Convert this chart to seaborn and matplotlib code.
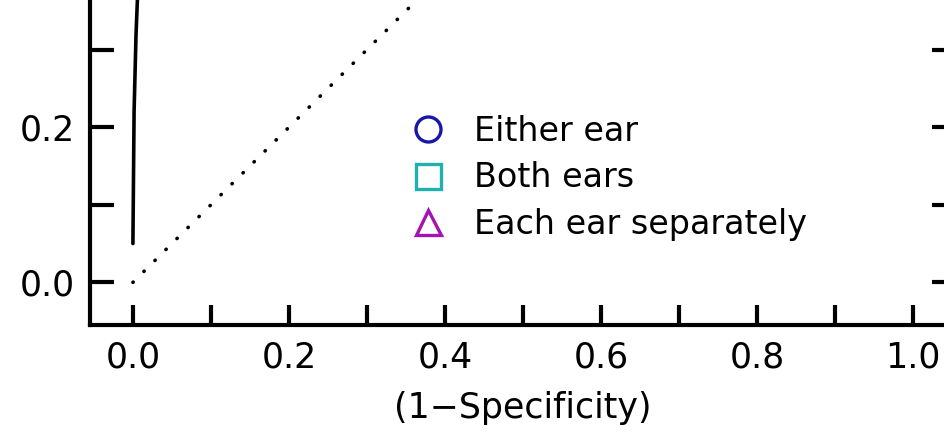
import matplotlib
matplotlib.use("Agg")
import matplotlib.pyplot as plt
from matplotlib.lines import Line2D
import pandas as pd
import seaborn as sns

# ROC curve (false positive rate vs sensitivity), lower-left corner
roc_fpr = [0.0, 0.0015, 0.004, 0.006, 0.008]
roc_tpr = [0.05, 0.22, 0.32, 0.37, 0.42]

# chance diagonal
chance_x = [0.0, 1.0]
chance_y = [0.0, 1.0]

x_major = [0.0, 0.2, 0.4, 0.6, 0.8, 1.0]
x_minor = [0.1, 0.3, 0.5, 0.7, 0.9]
y_major = [0.0, 0.2]
y_minor = [0.1, 0.3]

legend_labels = ["Either ear", "Both ears", "Each ear separately"]
legend_markers = ["o", "s", "^"]
legend_colors = ["#1818a8", "#1fb0b0", "#a414b0"]

sns.set_style("ticks")
plt.rcParams["font.family"] = ["DejaVu Sans"]
plt.rcParams["text.color"] = "black"
plt.rcParams["axes.labelcolor"] = "black"
plt.rcParams["xtick.color"] = "black"
plt.rcParams["ytick.color"] = "black"
plt.rcParams["axes.edgecolor"] = "black"

fig = plt.figure(figsize=(9.45, 4.36), dpi=100)
ax = fig.add_axes([90 / 945, 111 / 436, 866 / 945, 325 / 436])

roc = pd.DataFrame({"fpr": roc_fpr, "tpr": roc_tpr})
chance = pd.DataFrame({"x": chance_x, "y": chance_y})

sns.lineplot(data=roc, x="fpr", y="tpr", ax=ax, color="black", lw=2.6,
             sort=False, estimator=None)
sns.lineplot(data=chance, x="x", y="y", ax=ax, color="black", lw=2.6,
             linestyle=(0, (0.1, 4.2)), dash_capstyle="round",
             sort=False, estimator=None)

ax.set_xlim(-0.055, 1.055)
ax.set_ylim(-0.055, 0.364)

ax.set_xticks(x_major)
ax.set_xticks(x_minor, minor=True)
ax.set_xticklabels([f"{v:.1f}" for v in x_major])
ax.set_yticks(y_major)
ax.set_yticks(y_minor, minor=True)
ax.set_yticklabels([f"{v:.1f}" for v in y_major])

ax.tick_params(axis="x", which="both", direction="in", length=14.5,
               width=3.0, labelsize=25, pad=11, top=False)
ax.tick_params(axis="y", which="both", direction="in", length=17,
               width=3.0, labelsize=25, pad=11, right=True)

for side in ["left", "bottom"]:
    ax.spines[side].set_linewidth(3.0)
ax.spines["top"].set_visible(False)
ax.spines["right"].set_visible(False)

ax.set_xlabel("(1\u2212Specificity)", fontsize=25, labelpad=12)
ax.set_ylabel("")

handles = [
    Line2D([], [], linestyle="none", marker=m, markersize=18,
           markerfacecolor="none", markeredgecolor=c, markeredgewidth=2.4)
    for m, c in zip(legend_markers, legend_colors)
]
fig.legend(handles, legend_labels, loc="upper left",
           bbox_to_anchor=(411 / 945, 1 - 115 / 436), frameon=False,
           fontsize=24, handlelength=1.0, handletextpad=0.9,
           labelspacing=0.40, borderpad=0, borderaxespad=0)

fig.savefig("out.png", dpi=100)
